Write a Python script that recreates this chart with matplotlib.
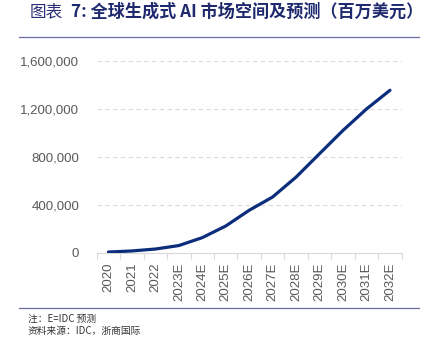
import matplotlib
matplotlib.use("Agg")
import matplotlib.pyplot as plt
from matplotlib.ticker import FuncFormatter, FixedLocator

# 全球生成式AI市场空间（百万美元）
years = ["2020", "2021", "2022", "2023E", "2024E", "2025E", "2026E",
         "2027E", "2028E", "2029E", "2030E", "2031E", "2032E"]
market = [8000, 17000, 33000, 62000, 128000, 225000, 356000,
          467000, 633000, 828000, 1022000, 1200000, 1356000]
yticks = [0, 400000, 800000, 1200000, 1600000]

plt.rcParams['font.family'] = ['Liberation Sans', 'Noto Sans CJK SC', 'DejaVu Sans']

fig = plt.figure(figsize=(4.31, 3.38), dpi=100)
ax = fig.add_axes([0.2244, 0.2515, 0.7076, 0.568])

x = list(range(len(years)))
ax.plot(x, market, color='#0b2d7c', lw=2.3, solid_capstyle='round', zorder=3)

ax.set_xlim(-0.5, len(years) - 0.5)
ax.set_ylim(0, 1600000)
ax.set_yticks(yticks)
ax.yaxis.set_major_formatter(FuncFormatter(lambda v, p: f"{int(v):,}"))
ax.grid(axis='y', color='#d9d9d9', ls=(0, (4, 3)), lw=0.8)
ax.set_axisbelow(True)

ax.set_xticks(x)
ax.set_xticklabels(years, rotation=90)
ax.xaxis.set_minor_locator(FixedLocator([i - 0.5 for i in range(len(years) + 1)]))
ax.tick_params(axis='x', which='major', length=0, pad=7, labelsize=9.5, labelcolor='#595959')
ax.tick_params(axis='x', which='minor', length=4, color='#d9d9d9', width=0.8)
ax.tick_params(axis='y', length=0, pad=12.5, labelsize=9.5, labelcolor='#595959')

for s in ['top', 'right', 'left']:
    ax.spines[s].set_visible(False)
ax.spines['bottom'].set_color('#d9d9d9')
ax.spines['bottom'].set_linewidth(0.8)

# 标题和分隔线
fig.text(30 / 431, 1 - 12 / 338, "图表", fontsize=12, color='#2b2f7a',
         family=['Noto Sans CJK SC'], va='center', ha='left')
fig.text(71 / 431, 1 - 12 / 338, "7: 全球生成式 AI 市场空间及预测（百万美元）", fontsize=12.3,
         color='#1f2a6e', fontweight='bold', family=['Noto Sans CJK SC'], va='center', ha='left')
fig.add_artist(plt.Line2D([19 / 431, 419 / 431], [1 - 37 / 338, 1 - 37 / 338],
                          color='#6e6ea6', lw=0.9, transform=fig.transFigure))
fig.add_artist(plt.Line2D([19 / 431, 419 / 431], [1 - 308 / 338, 1 - 308 / 338],
                          color='#6e6ea6', lw=0.9, transform=fig.transFigure))

fig.text(28 / 431, 1 - 319 / 338, "注：E=IDC 预测", fontsize=7, color='#333333',
         family=['Noto Sans CJK SC'], va='center', ha='left')
fig.text(28 / 431, 1 - 331 / 338, "资料来源：IDC，浙商国际", fontsize=7, color='#333333',
         family=['Noto Sans CJK SC'], va='center', ha='left')

fig.savefig("out.png", dpi=100)
